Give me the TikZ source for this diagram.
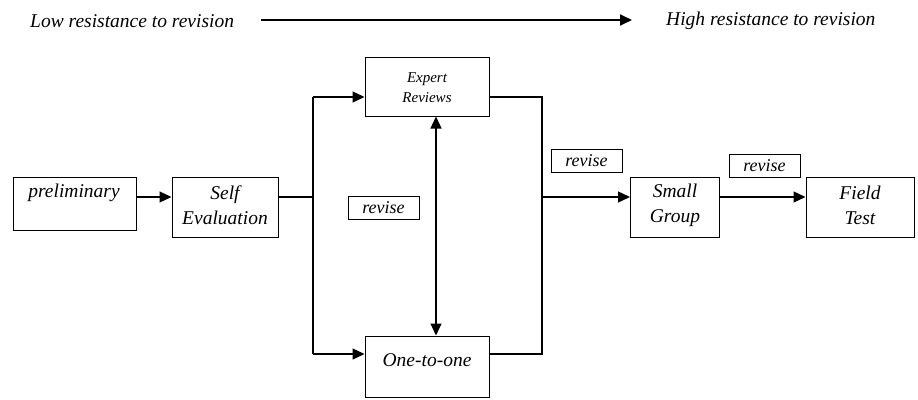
\documentclass[tikz,border=0pt]{standalone}
\usepackage{fontspec}
\setmainfont{Liberation Serif}
\usetikzlibrary{arrows.meta}
\begin{document}
\begin{tikzpicture}[x=1pt,y=-1pt,
  lbl/.style={font=\fontsize{19.5}{25}\selectfont\itshape, inner sep=0pt, align=center},
  boxnode/.style={draw, line width=1pt, rectangle, inner sep=0pt},
  revbox/.style={draw, line width=1pt, rectangle, inner sep=0pt, minimum width=71pt, minimum height=23pt, font=\fontsize{18}{20}\selectfont\itshape},
  conn/.style={line width=1.3pt},
  arr/.style={line width=1.3pt, -{Triangle[length=12pt,width=11pt]}}]
\useasboundingbox (0,0) rectangle (918,399);
% top scale
\node[lbl, anchor=west] (low) at (30,21) {Low resistance to revision};
\node[lbl, anchor=west] (high) at (666,21) {High resistance to revision};
\coordinate (ta) at (261,20);
\coordinate (tb) at (632,20);
\draw[line width=1.8pt, -{Triangle[length=12pt,width=11pt]}] (ta) -- (tb);
% boxes
\node[boxnode, minimum width=123pt, minimum height=53pt] (pre) at (74.5,203.5) {};
\node[lbl] (pret) at (74,193) {preliminary};
\node[boxnode, minimum width=106pt, minimum height=60pt] (self) at (225,207) {};
\node[lbl] (selft) at (225,205) {Self\\Evaluation};
\node[boxnode, minimum width=124pt, minimum height=59pt] (exp) at (427,86.5) {};
\node[lbl, font=\fontsize{15}{20}\selectfont\itshape] (expt) at (427,88) {Expert\\Reviews};
\node[boxnode, minimum width=124pt, minimum height=61pt] (one) at (427,366.5) {};
\node[lbl] (onet) at (427,360) {One-to-one};
\node[boxnode, minimum width=89pt, minimum height=60pt] (small) at (675,207) {};
\node[lbl] (smallt) at (675,205) {Small\\Group};
\node[boxnode, minimum width=108pt, minimum height=60pt] (field) at (860,207) {};
\node[lbl] (fieldt) at (860,205) {Field\\Test};
% revise labels
\node[revbox] (rev1) at (383.5,208) {revise};
\node[revbox] (rev2) at (586.5,161) {revise};
\node[revbox] (rev3) at (764.5,166) {revise};
% junction coordinates
\coordinate (m) at (0,197);
\coordinate (jL) at (313,197);
\coordinate (jLt) at (313,97);
\coordinate (jLb) at (313,354);
\coordinate (jRt) at (542,97);
\coordinate (jRb) at (542,354);
\coordinate (jR) at (542,197);
\coordinate (dx) at (436,0);
% connectors
\draw[arr] (pre.east |- m) -- (self.west |- m);
\draw[conn] (self.east |- m) -- (jL);
\draw[conn] (jLt) -- (jLb);
\draw[arr] (jLt) -- (exp.west |- jLt);
\draw[arr] (jLb) -- (one.west |- jLb);
\draw[conn] (exp.east |- jRt) -- (jRt) -- (jRb) -- (one.east |- jRb);
\draw[arr] (jR) -- (small.west |- m);
\draw[arr] (small.east |- m) -- (field.west |- m);
\draw[line width=1.3pt, {Triangle[length=12pt,width=11pt]}-{Triangle[length=12pt,width=11pt]}] (exp.south -| dx) -- (one.north -| dx);
\end{tikzpicture}
\end{document}
